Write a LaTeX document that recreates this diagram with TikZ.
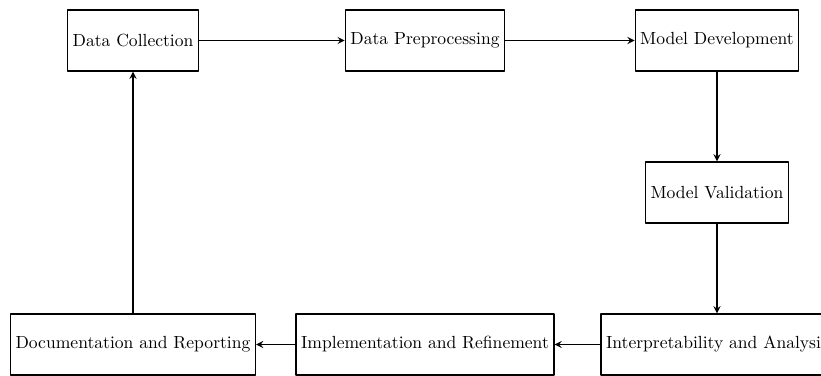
\documentclass[tikz,border=0pt]{standalone}
\usetikzlibrary{arrows}
\begin{document}
\begin{tikzpicture}[line join=round, >=stealth, line width=0.8pt,
    stage/.style={draw, fill=white, minimum height=1.22cm, inner xsep=0.1cm}]
    \def\xa{2.66} \def\xb{8.5} \def\xc{14.34} % columns
    \def\yt{6.69} \def\ym{3.65} \def\yd{0.61} % rows
    \clip (0,0) rectangle (16.42,7.5);
    \node[stage] (coll) at (\xa,\yt) {Data Collection};
    \node[stage] (prep) at (\xb,\yt) {Data Preprocessing};
    \node[stage] (dev) at (\xc,\yt) {Model Development};
    \node[stage] (val) at (\xc,\ym) {Model Validation};
    \node[stage] (interp) at (\xc,\yd) {Interpretability and Analysis};
    \node[stage] (impl) at (\xb,\yd) {Implementation and Refinement};
    \node[stage] (doc) at (\xa,\yd) {Documentation and Reporting};
    \draw[->] (coll) -- (prep);
    \draw[->] (prep) -- (dev);
    \draw[->] (dev) -- (val);
    \draw[->] (val) -- (interp);
    \draw[->] (interp) -- (impl);
    \draw[->] (impl) -- (doc);
    \draw[->] (doc) -- (coll);
\end{tikzpicture}
\end{document}
